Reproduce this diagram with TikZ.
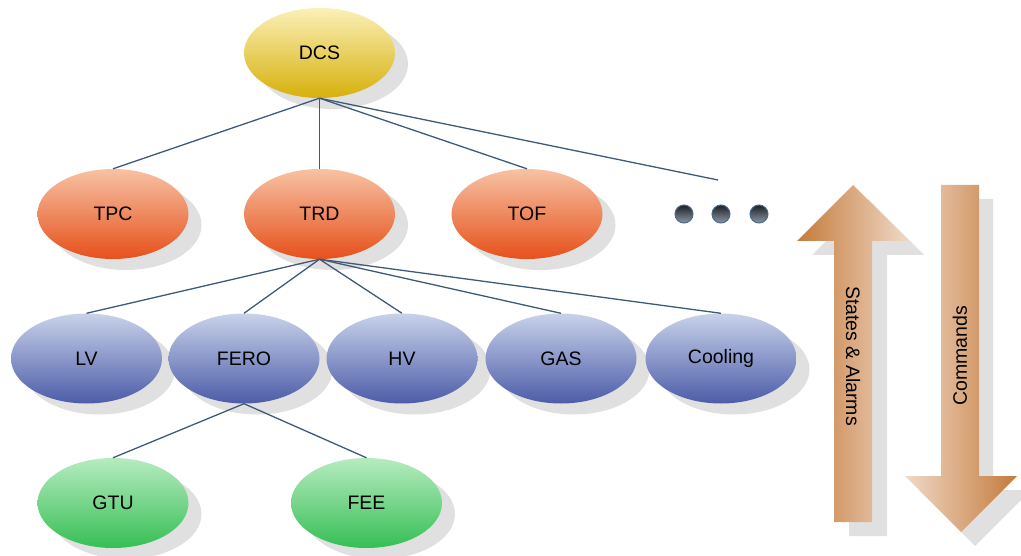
\documentclass[tikz,border=0pt]{standalone}
\usepackage{fontspec}
\setmainfont{Liberation Sans}
\usetikzlibrary{shapes.geometric,shadows}

\definecolor{linkc}{HTML}{3E5A78}
\definecolor{shadowc}{HTML}{E0E0E0}
\definecolor{ytop}{HTML}{FBF0B8}\definecolor{ybot}{HTML}{D6B00A}
\definecolor{otop}{HTML}{F7C2A4}\definecolor{obot}{HTML}{E6501A}
\definecolor{btop}{HTML}{C8D2EA}\definecolor{bbot}{HTML}{4C5CA8}
\definecolor{gtop}{HTML}{B6EBC0}\definecolor{gbot}{HTML}{36BF55}
\definecolor{brdark}{HTML}{C47A3C}\definecolor{brlight}{HTML}{F0D9C6}
\definecolor{dottop}{HTML}{1C2026}\definecolor{dotbot}{HTML}{8C96A2}
\definecolor{dotrim}{HTML}{4A6A8C}

\tikzset{
  unit/.style={ellipse, minimum width=151pt, minimum height=90pt, inner sep=0pt,
    font=\fontsize{19.5}{22}\selectfont, shading=axis,
    drop shadow={shadow xshift=13pt, shadow yshift=-11pt, fill=shadowc, opacity=1}},
  topunit/.style={unit, top color=ytop, bottom color=ybot},
  detunit/.style={unit, top color=otop, bottom color=obot},
  subunit/.style={unit, top color=btop, bottom color=bbot},
  devunit/.style={unit, top color=gtop, bottom color=gbot},
  link/.style={draw=linkc, line width=1.3pt},
  more/.style={circle, minimum size=18pt, inner sep=0pt, top color=dottop,
    bottom color=dotbot, draw=dotrim, line width=1pt},
  flowlabel/.style={font=\fontsize{19.5}{22}\selectfont, inner sep=0pt}
}

\begin{document}
\begin{tikzpicture}[x=1pt,y=-1pt]
\useasboundingbox (0,0) rectangle (1021,556);

% hierarchy
\node[topunit] (dcs) at (319.5,53) {DCS};

\node[detunit] (tpc) at (113,214) {TPC};
\node[detunit] (trd) at (319.5,214) {TRD};
\node[detunit] (tof) at (527,214) {TOF};
\coordinate (etc) at (718,180);
\node[more] (d1) at (684,214) {};
\node[more] (d2) at (721,214) {};
\node[more] (d3) at (759,214) {};

\node[subunit] (lv) at (86.5,358.5) {LV};
\node[subunit] (fero) at (244,358.5) {FERO};
\node[subunit] (hv) at (402,358.5) {HV};
\node[subunit] (gas) at (561,358.5) {GAS};
\node[subunit] (cool) at (721,358.5) {Cooling};

\node[devunit] (gtu) at (113,503) {GTU};
\node[devunit] (fee) at (366.5,503) {FEE};

\foreach \c in {tpc,trd,tof} \draw[link] (dcs.south) -- (\c.north);
\draw[link] (dcs.south) -- (etc);
\foreach \c in {lv,fero,hv,gas,cool} \draw[link] (trd.south) -- (\c.north);
\foreach \c in {gtu,fee} \draw[link] (fero.south) -- (\c.north);

% upward flow: states and alarms
\fill[shadowc] (868,199) -- (924,255) -- (887,255) -- (887,536) -- (849,536)
  -- (849,255) -- (812,255) -- cycle;
\shade[left color=brdark, right color=brlight] (853,185) -- (909,241) -- (872,241)
  -- (872,522) -- (834,522) -- (834,241) -- (797,241) -- cycle;
\node[flowlabel, rotate=-90] (states) at (853,356) {States \& Alarms};

% downward flow: commands
\fill[shadowc] (955,199) -- (993,199) -- (993,490) -- (1031,490) -- (975,546)
  -- (919,490) -- (955,490) -- cycle;
\shade[left color=brlight, right color=brdark] (941,185) -- (979,185) -- (979,476)
  -- (1017,476) -- (961,532) -- (905,476) -- (941,476) -- cycle;
\node[flowlabel, rotate=90] (cmds) at (960,356) {Commands};
\end{tikzpicture}
\end{document}
